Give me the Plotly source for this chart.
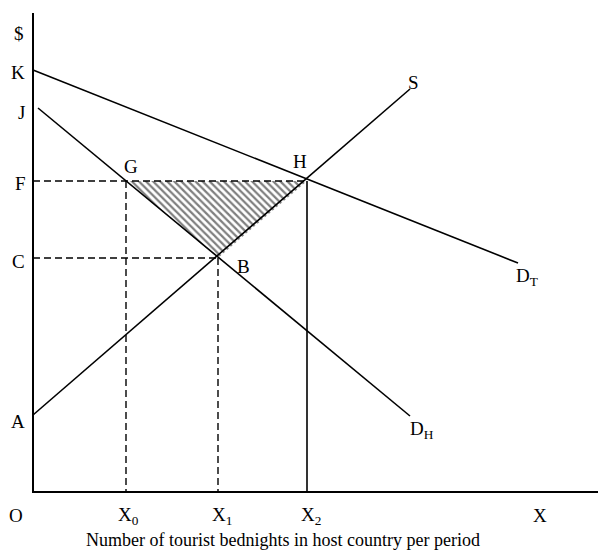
import plotly.graph_objects as go

# Data (arbitrary units; origin O at 0,0)
x_max, y_max = 114, 95.8
X0, X1, X2 = 18.6, 37.0, 54.8
F_val, C_val = 62.2, 46.8
DT_line = {"x": [0, 97], "y": [84.4, 45.8]}
DH_line = {"x": [1, 75.4], "y": [76.8, 15.2]}
S_line = {"x": [0, 75.4], "y": [15.4, 80.6]}

# Axis letters
y_labels = ["$", "K", "J", "F", "C", "A"]
y_label_x = [-2.8, -3.0, -2.4, -2.6, -3.0, -3.0]
y_label_y = [91.8, 84.0, 76.0, 61.8, 46.2, 14.2]
x_labels = ["O", "X<sub>0</sub>", "X<sub>1</sub>", "X<sub>2</sub>", "X"]
x_label_x = [-3.4, 19.0, 37.8, 55.6, 101.4]
x_label_y = -4.7
# Point / curve letters
pt_labels = ["G", "H", "B", "S", "D<sub>T</sub>", "D<sub>H</sub>"]
pt_label_x = [19.6, 53.4, 42.0, 76.0, 98.8, 77.8]
pt_label_y = [65.2, 66.2, 45.2, 82.0, 43.0, 12.4]
x_title = "Number of tourist bednights in host country per period"

FONT = "Liberation Serif"
line_style = dict(color="black", width=1.6)
dash_style = dict(color="black", width=1.4, dash="7px,4px")

fig = go.Figure()

# Hatched triangle G-H-B
fig.add_trace(go.Scatter(
    x=[X0, X2, X1, X0], y=[F_val, F_val, C_val, F_val],
    mode="lines", line=dict(width=0, color="rgba(0,0,0,0)"),
    fill="toself", fillcolor="white",
    fillpattern=dict(shape="\\", size=5, solidity=0.45, fgcolor="black", bgcolor="white"),
    hoverinfo="skip", showlegend=False))

# Curves
for ln in (DT_line, DH_line, S_line):
    fig.add_trace(go.Scatter(x=ln["x"], y=ln["y"], mode="lines", line=line_style,
                             showlegend=False, hoverinfo="skip"))

# Dashed guides
fig.add_trace(go.Scatter(x=[0, X2], y=[F_val, F_val], mode="lines", line=dash_style, showlegend=False))
fig.add_trace(go.Scatter(x=[0, X1], y=[C_val, C_val], mode="lines", line=dash_style, showlegend=False))
fig.add_trace(go.Scatter(x=[X0, X0], y=[F_val, 0], mode="lines", line=dash_style, showlegend=False))
fig.add_trace(go.Scatter(x=[X1, X1], y=[C_val, 0], mode="lines", line=dash_style, showlegend=False))
# Solid vertical at X2
fig.add_trace(go.Scatter(x=[X2, X2], y=[F_val, 0], mode="lines", line=line_style, showlegend=False))

# Axes lines
fig.add_trace(go.Scatter(x=[0, 0, x_max], y=[y_max, 0, 0], mode="lines",
                         line=dict(color="black", width=2), showlegend=False))

ann = []
for t, xv, yv in zip(y_labels, y_label_x, y_label_y):
    ann.append(dict(x=xv, y=yv, text=t))
for t, xv in zip(x_labels, x_label_x):
    ann.append(dict(x=xv, y=x_label_y, text=t))
for t, xv, yv in zip(pt_labels, pt_label_x, pt_label_y):
    ann.append(dict(x=xv, y=yv, text=t))
ann.append(dict(x=50, y=-9.6, text=x_title, font=dict(size=18)))

fig.update_layout(
    width=598, height=551,
    margin=dict(l=0, r=0, t=0, b=0, pad=0),
    paper_bgcolor="white", plot_bgcolor="white",
    font=dict(family=FONT, size=19, color="black"),
    annotations=[dict(a, xref="x", yref="y", showarrow=False,
                      xanchor="center", yanchor="middle") for a in ann],
    xaxis=dict(range=[-5, 114.6], visible=False, fixedrange=True),
    yaxis=dict(range=[-13.4, 96.8], visible=False, fixedrange=True),
    showlegend=False,
)

fig.write_html("out.html")
